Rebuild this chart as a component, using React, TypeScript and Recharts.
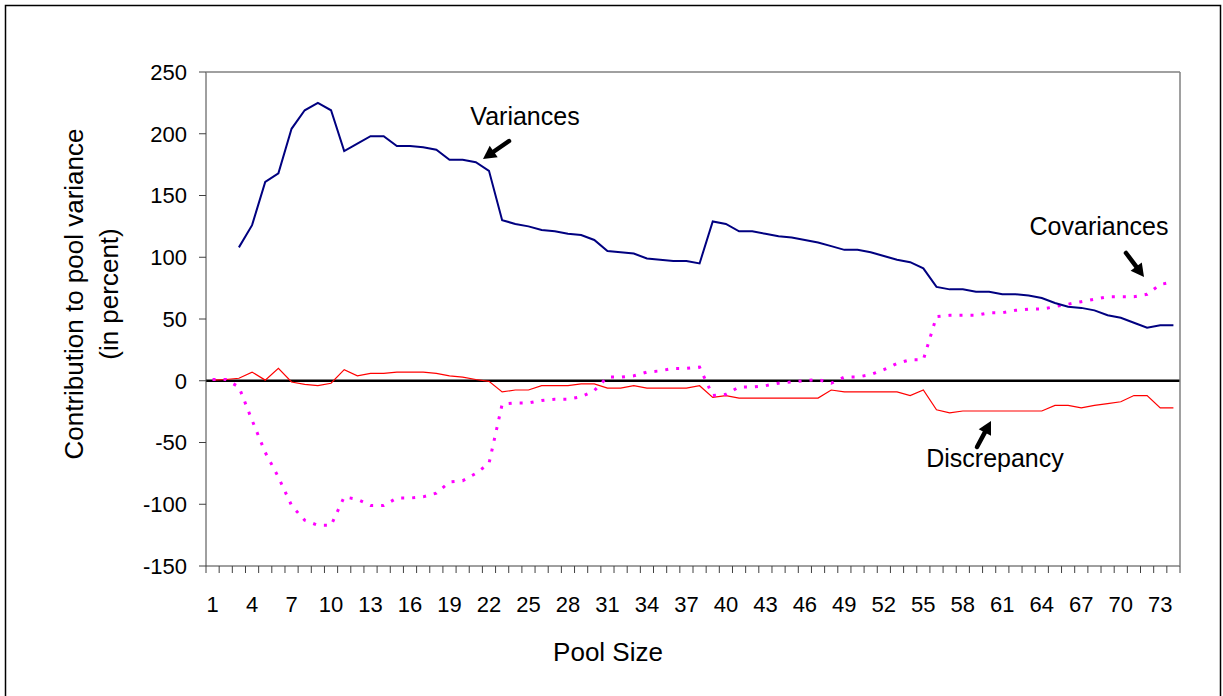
import React from "react";
import { LineChart, Line, XAxis, YAxis, ReferenceLine } from "recharts";

const poolSizes = [
  1, 2, 3, 4, 5, 6, 7, 8, 9, 10, 11, 12, 13, 14, 15, 16, 17, 18, 19, 20, 21, 22, 23, 24, 25, 26, 27, 28, 29, 30, 31, 32, 33, 34, 35, 36, 37,
  38, 39, 40, 41, 42, 43, 44, 45, 46, 47, 48, 49, 50, 51, 52, 53, 54, 55, 56, 57, 58, 59, 60, 61, 62, 63, 64, 65, 66, 67, 68, 69, 70, 71,
  72, 73, 74,
];

const variances = [
  null, null, 108, 126, 161, 168, 204, 219, 225, 219, 186, 192, 198, 198, 190, 190, 189, 187, 179, 179, 177, 170, 130, 127, 125, 122, 121,
  119, 118, 114, 105, 104, 103, 99, 98, 97, 97, 95, 129, 127, 121, 121, 119, 117, 116, 114, 112, 109, 106, 106, 104, 101, 98, 96, 91, 76,
  74, 74, 72, 72, 70, 70, 69, 67, 63, 60, 59, 57, 53, 51, 47, 43, 45, 45,
];

const covariances = [
  1, 1, -5, -32, -58, -78, -101, -113, -117, -117, -94, -96, -101, -101, -95, -95, -94, -91, -82, -81, -75, -67, -19, -18, -18, -16, -15,
  -15, -13, -8, 3, 3, 4, 7, 8, 10, 10, 11, -12, -11, -5, -5, -4, -2, -1, 0, 1, -2, 3, 3, 5, 9, 14, 17, 17, 52, 53, 53, 53, 55, 55, 57, 58,
  58, 60, 62, 64, 66, 68, 68, 68, 70, 78, 80,
];

const discrepancy = [
  0.5, 1, 2, 7, 0.5, 10, -1, -3, -4, -2, 9, 4, 6, 6, 7, 7, 7, 6, 4, 3, 1, -0.5, -9, -7.5, -7.5, -4, -4, -4, -2.5, -2.5, -6, -6, -4, -6, -6,
  -6, -6, -4, -13.5, -12, -14, -14, -14, -14, -14, -14, -14, -7.5, -9, -9, -9, -9, -9, -12, -7.5, -23.5, -26, -24.5, -24.5, -24.5, -24.5,
  -24.5, -24.5, -24.5, -20, -20, -22, -20, -18.5, -17, -12, -12, -22, -22,
];

const yTicks = [-150, -100, -50, 0, 50, 100, 150, 200, 250];

const rows = poolSizes.map((pool, i) => ({
  pool,
  variances: variances[i],
  covariances: covariances[i],
  discrepancy: discrepancy[i],
}));

// labels every third pool size, tick marks on the category boundaries
const labelTicks = poolSizes.filter((n) => (n - 1) % 3 === 0);
const boundaryTicks = [...poolSizes.map((n) => n - 0.5), poolSizes[poolSizes.length - 1] + 0.5];
const xTicks = [...boundaryTicks, ...labelTicks].sort((a, b) => a - b);

const FONT = '"Liberation Sans", Arial, sans-serif';
const AXIS = "#404040";

function PoolTick({ x, y, payload }: any) {
  const v = payload.value as number;
  if (!Number.isInteger(v)) {
    return <line x1={x} x2={x} y1={y} y2={y + 7} stroke={AXIS} strokeWidth={1} />;
  }
  return (
    <text x={x} y={y + 46} textAnchor="middle" fontFamily={FONT} fontSize={22} fill="#000">
      {v}
    </text>
  );
}

function Arrow({ from, to }: { from: [number, number]; to: [number, number] }) {
  const dx = to[0] - from[0];
  const dy = to[1] - from[1];
  const len = Math.hypot(dx, dy);
  const ux = dx / len;
  const uy = dy / len;
  const head = 13;
  const half = 7;
  const bx = to[0] - ux * head;
  const by = to[1] - uy * head;
  const pts = [
    [to[0], to[1]],
    [bx - uy * half, by + ux * half],
    [bx + uy * half, by - ux * half],
  ]
    .map((p) => p.join(","))
    .join(" ");
  return (
    <g>
      <line x1={from[0]} y1={from[1]} x2={bx + ux * 2} y2={by + uy * 2} stroke="#000" strokeWidth={4.5} strokeLinecap="round" />
      <polygon points={pts} fill="#000" />
    </g>
  );
}

export default function App() {
  return (
    <div style={{ position: "absolute", left: 0, top: 0, width: 1223, height: 696, background: "#fff" }}>
      <LineChart width={1223} height={696} data={rows} margin={{ top: 72, right: 43, left: 0, bottom: 70 }}>
        <XAxis
          dataKey="pool"
          type="number"
          domain={[0.5, 74.5]}
          ticks={xTicks}
          interval={0}
          height={60}
          tickLine={false}
          tickSize={0}
          tickMargin={0}
          stroke={AXIS}
          tick={<PoolTick />}
        />
        <YAxis
          domain={[-150, 250]}
          ticks={yTicks}
          interval={0}
          width={206}
          tickSize={7}
          tickMargin={12}
          stroke={AXIS}
          tick={{ fill: "#000", fontSize: 22, fontFamily: FONT }}
        />
        <ReferenceLine y={0} stroke="#000" strokeWidth={2.5} />
        <Line
          dataKey="discrepancy"
          type="linear"
          stroke="#ff0000"
          strokeWidth={1.2}
          dot={false}
          isAnimationActive={false}
        />
        <Line
          dataKey="covariances"
          type="linear"
          stroke="#ff00ff"
          strokeWidth={3}
          strokeDasharray="3 8"
          dot={false}
          isAnimationActive={false}
        />
        <Line
          dataKey="variances"
          type="linear"
          stroke="#000080"
          strokeWidth={2}
          dot={false}
          isAnimationActive={false}
        />
      </LineChart>

      <svg
        width={1223}
        height={696}
        style={{ position: "absolute", left: 0, top: 0, pointerEvents: "none" }}
        fontFamily={FONT}
      >
        <rect x={5.5} y={5.5} width={1215} height={720} fill="none" stroke="#000" strokeWidth={1.5} />
        <line x1={206} y1={72} x2={1180} y2={72} stroke="#808080" strokeWidth={1.5} />
        <line x1={1180} y1={72} x2={1180} y2={566} stroke="#808080" strokeWidth={1.5} />

        <text transform="translate(74,294) rotate(-90)" textAnchor="middle" dominantBaseline="central" fontSize={26}>
          Contribution to pool variance
        </text>
        <text transform="translate(109,294) rotate(-90)" textAnchor="middle" dominantBaseline="central" fontSize={26}>
          (in percent)
        </text>
        <text x={608} y={661} textAnchor="middle" fontSize={26}>
          Pool Size
        </text>

        <text x={525} y={125} textAnchor="middle" fontSize={25}>
          Variances
        </text>
        <Arrow from={[509, 141]} to={[483, 159]} />

        <text x={1099} y={235} textAnchor="middle" fontSize={25}>
          Covariances
        </text>
        <Arrow from={[1126, 253]} to={[1144, 277]} />

        <text x={995} y={467} textAnchor="middle" fontSize={25}>
          Discrepancy
        </text>
        <Arrow from={[977, 447]} to={[991, 421]} />
      </svg>
    </div>
  );
}
